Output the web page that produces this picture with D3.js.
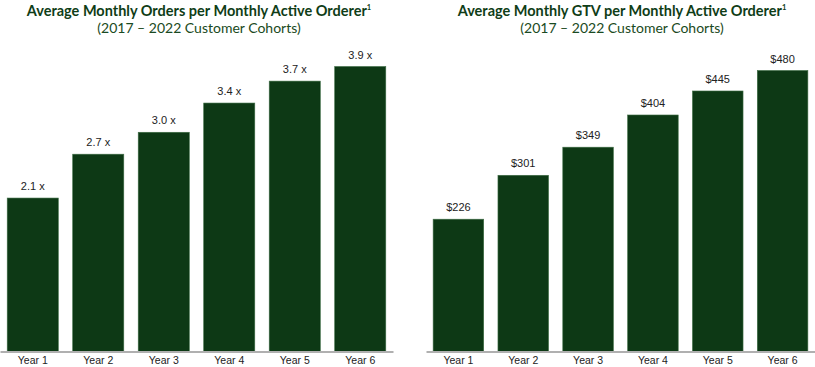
<!DOCTYPE html>
<html>
<head>
<meta charset="utf-8">
<script src="https://cdn.jsdelivr.net/npm/d3@7"></script>
<style>
  html, body { margin: 0; padding: 0; background: #ffffff; }
  svg { display: block; }
</style>
</head>
<body>
<svg id="chart" width="815" height="367"></svg>
<script>
const categories = ["Year 1", "Year 2", "Year 3", "Year 4", "Year 5", "Year 6"];
const ordersValues = [2.1, 2.7, 3.0, 3.4, 3.7, 3.9];
const ordersLabels = ["2.1 x", "2.7 x", "3.0 x", "3.4 x", "3.7 x", "3.9 x"];
const gtvValues = [226, 301, 349, 404, 445, 480];
const gtvLabels = ["$226", "$301", "$349", "$404", "$445", "$480"];
const titleLeft = "Average Monthly Orders per Monthly Active Orderer";
const titleRight = "Average Monthly GTV per Monthly Active Orderer";
const subtitle = "(2017 \u2013 2022 Customer Cohorts)";

const svg = d3.select("#chart");
const barColor = "#0d3915";
const titleColor = "#0f3d17";
const baseline = 351.5;

function panel(opts) {
  const g = svg.append("g");
  const x = d3.scaleBand().domain(categories).range([opts.x0, opts.x1])
    .paddingInner(0.22).paddingOuter(0.11);
  const y = d3.scaleLinear().domain([0, opts.max]).range([baseline, baseline - opts.maxPx]);

  g.selectAll("rect.bar").data(opts.values).join("rect")
    .attr("class", "bar")
    .attr("x", (d, i) => x(categories[i]))
    .attr("width", x.bandwidth())
    .attr("y", d => y(d))
    .attr("height", d => baseline - y(d))
    .attr("fill", barColor)
    .attr("stroke", "#3f6e45")
    .attr("stroke-width", 0.6);

  g.selectAll("text.val").data(opts.values).join("text")
    .attr("class", "val")
    .attr("x", (d, i) => x(categories[i]) + x.bandwidth() / 2)
    .attr("y", d => y(d) - 8)
    .attr("text-anchor", "middle")
    .attr("font-family", "Liberation Sans, Arial, sans-serif")
    .attr("font-size", 11)
    .attr("fill", "#222")
    .text((d, i) => opts.labels[i]);

  const axis = d3.axisBottom(x).tickSize(0).tickPadding(5.5);
  const ag = g.append("g").attr("transform", `translate(0,${baseline})`).call(axis);
  ag.select(".domain").attr("stroke", "#b0b0b0").attr("stroke-width", 2);
  ag.selectAll(".tick text")
    .attr("font-family", "Liberation Sans, Arial, sans-serif")
    .attr("font-size", 10.5)
    .attr("fill", "#222");

  const t = g.append("text")
    .attr("x", opts.cx)
    .attr("y", 16)
    .attr("text-anchor", "middle")
    .attr("font-family", "Lato, sans-serif")
    .attr("font-weight", "bold")
    .attr("font-size", 14.5)
    .attr("fill", titleColor);
  t.append("tspan").text(opts.title);
  t.append("tspan").attr("font-size", 7.5).attr("dy", -6).text("1");

  g.append("text")
    .attr("x", opts.cx)
    .attr("y", 33)
    .attr("text-anchor", "middle")
    .attr("font-family", "Lato, sans-serif")
    .attr("font-size", 14)
    .attr("fill", "#1a4a22")
    .text(subtitle);
}

panel({ x0: 0, x1: 393, values: ordersValues, labels: ordersLabels, max: 3.9, maxPx: 285, title: titleLeft, cx: 199 });
panel({ x0: 426, x1: 815, values: gtvValues, labels: gtvLabels, max: 480, maxPx: 281, title: titleRight, cx: 622 });
</script>
</body>
</html>
